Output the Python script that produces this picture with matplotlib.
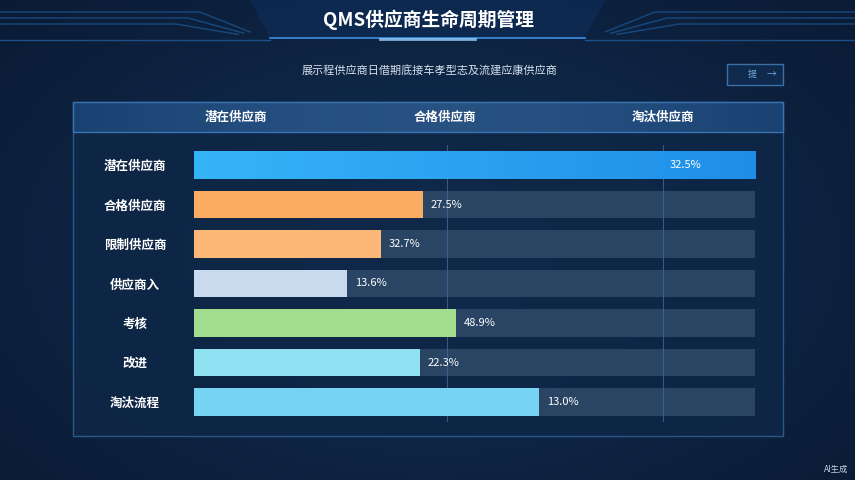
import numpy as np
import matplotlib
matplotlib.use('Agg')
import matplotlib.pyplot as plt
from matplotlib.patches import Rectangle, Polygon

plt.rcParams['font.family'] = ['Noto Sans CJK SC', 'DejaVu Sans']

title = 'QMS供应商生命周期管理'
subtitle = '展示程供应商日借期底接车孝型志及流建应康供应商'
header_labels = ['潜在供应商', '合格供应商', '淘汰供应商']
categories = ['潜在供应商', '合格供应商', '限制供应商', '供应商入', '考核', '改进', '淘汰流程']
# bar length as share of the track
progress = [100.0, 40.8, 33.3, 27.3, 46.7, 40.3, 61.5]
value_labels = ['32.5%', '27.5%', '32.7%', '13.6%', '48.9%', '22.3%', '13.0%']
bar_colors = ['#2a9cf0', '#fbac62', '#fdb878', '#c9d9ee', '#a2dd8f', '#8fe0f1', '#77d3f4']
divider_pos = [45.1, 83.6]

W, H = 855, 480
fig = plt.figure(figsize=(W / 100, H / 100), dpi=100)

# background
bg = fig.add_axes([0, 0, 1, 1])
yy, xx = np.mgrid[0:H, 0:W]
d = np.sqrt(((xx - 430) / 600.0) ** 2 + ((yy - 250) / 380.0) ** 2)
top = np.array([0x0a, 0x1a, 0x33]) / 255
mid = np.array([0x12, 0x30, 0x55]) / 255
t = np.clip(d, 0, 1)[..., None]
img = mid * (1 - t) + top * t
bg.imshow(img, extent=[0, W, H, 0], aspect='auto', zorder=0)

# title bar decorations
bg.add_patch(Polygon([[250, 0], [605, 0], [585, 38], [270, 38]], closed=True,
                     facecolor='#0e2a52', edgecolor='none', alpha=0.9))
bg.plot([270, 585], [38, 38], color='#3a8fe0', lw=1.2)
bg.plot([380, 475], [39, 39], color='#9fd4ff', lw=2.0, alpha=0.8)
for off in [0, 6, 12]:
    bg.plot([0, 200 - off * 2, 250 - off], [12 + off, 12 + off, 32 + off * 0.2], color='#1f5a9a', lw=1.0, alpha=0.7)
    bg.plot([W, 655 + off * 2, 605 + off], [12 + off, 12 + off, 32 + off * 0.2], color='#1f5a9a', lw=1.0, alpha=0.7)
bg.plot([0, 270], [40, 40], color='#1d4f88', lw=1.0)
bg.plot([585, W], [40, 40], color='#1d4f88', lw=1.0)
bg.text(428, 20, title, color='white', fontsize=13.5, fontweight='bold', ha='center', va='center')
bg.text(430, 71, subtitle, color='#d8e2ee', fontsize=8, ha='center', va='center')

# button
bg.add_patch(Rectangle((727, 64), 56, 21, facecolor='#0f2a4c', edgecolor='#3a6fa8', lw=1.0))
bg.text(752, 74.5, '提', color='#6fa8e0', fontsize=6.5, ha='center', va='center')
bg.text(771, 74.5, '→', color='#6fa8e0', fontsize=7, ha='center', va='center')

# panel
bg.add_patch(Rectangle((73, 102), 710, 334, facecolor='#0f2747', edgecolor='#2f6196', lw=1.0, alpha=0.85, zorder=1))
hdr = np.sin(np.linspace(0, 1, 200) * np.pi)[None, :]
hdr_img = np.dstack([0.10 + 0.05 * hdr, 0.26 + 0.06 * hdr, 0.45 + 0.06 * hdr])
bg.imshow(hdr_img, extent=[73, 783, 132, 102], aspect='auto', zorder=2)
bg.add_patch(Rectangle((73, 102), 710, 30, facecolor='none', edgecolor='#3a74b0', lw=1.0, zorder=3))
bg.set_xlim(0, W)
bg.set_ylim(H, 0)
bg.axis('off')
for x, lab in zip([236, 445, 663], header_labels):
    bg.text(x, 117, lab, color='white', fontsize=9, fontweight='bold', ha='center', va='center', zorder=4)
bg.text(848, 469, 'AI生成', color='#c8d3e0', fontsize=6, ha='right', va='center')

# bars
ax = fig.add_axes([194 / W, 1 - 421.75 / H, 561 / W, (421.75 - 145.25) / H])
ax.set_facecolor('none')
y = np.arange(len(categories))
ax.barh(y, [100] * len(y), height=0.69, color='#2a4563', zorder=1)
for xd in divider_pos:
    ax.axvline(xd, color='#3c6a98', lw=0.8, alpha=0.8, zorder=2)
bars = ax.barh(y, progress, height=0.69, color=bar_colors, zorder=3)
# gradient on the first bar
g = np.linspace(0, 1, 256)[None, :]
c0 = np.array([0x36, 0xb4, 0xf8]) / 255
c1 = np.array([0x1f, 0x8e, 0xe8]) / 255
grad = c0 * (1 - g[..., None]) + c1 * g[..., None]
im = ax.imshow(grad, extent=[0, progress[0], 0.345, -0.345], aspect='auto', zorder=3.5)
im.set_clip_path(bars[0])
for i, (p, lab) in enumerate(zip(progress, value_labels)):
    if p >= 95:
        ax.text(p - 15.3, i, lab, color='white', fontsize=8, ha='left', va='center', zorder=4)
    else:
        ax.text(p + 1.4, i, lab, color='white', fontsize=8, ha='left', va='center', zorder=4)
ax.set_xlim(0, 100)
ax.set_ylim(len(y) - 0.5, -0.5)
ax.set_xticks([])
ax.set_yticks(y, categories)
ax.tick_params(axis='y', length=0, pad=42.5)
for tl in ax.get_yticklabels():
    tl.set_ha('center')
    tl.set_color('white')
    tl.set_fontsize(9)
    tl.set_fontweight('bold')
for s in ax.spines.values():
    s.set_visible(False)

fig.savefig('out.png', dpi=100)
